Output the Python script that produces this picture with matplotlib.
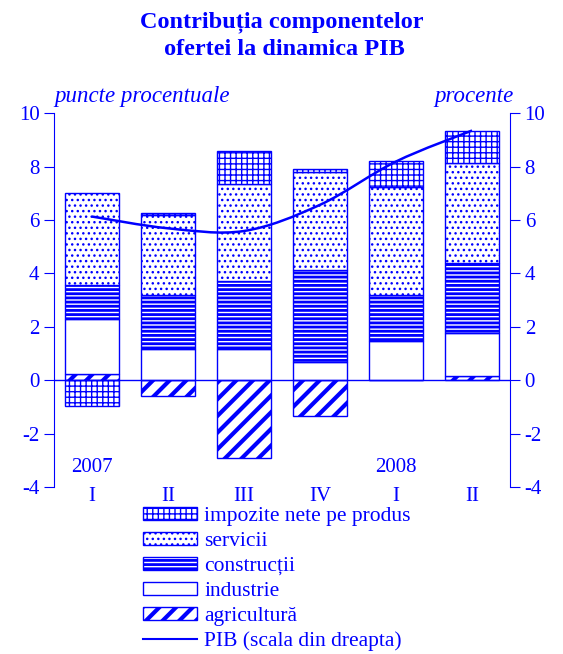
import matplotlib
matplotlib.use("Agg")
import matplotlib.pyplot as plt
import numpy as np
from matplotlib.patches import Patch, PathPatch
from matplotlib.path import Path
from matplotlib.lines import Line2D

quarters = ["I", "II", "III", "IV", "I", "II"]
agricultura = [0.22, -0.59, -2.91, -1.32, 0.0, 0.16]
industrie = [2.06, 1.16, 1.16, 0.70, 1.47, 1.63]
constructii = [1.29, 2.04, 2.54, 3.43, 1.73, 2.59]
servicii = [3.43, 2.99, 3.65, 3.65, 4.05, 3.77]
impozite = [-0.96, 0.09, 1.24, 0.12, 0.96, 1.19]
pib = [6.13, 5.69, 5.59, 6.57, 8.19, 9.35]

blue = "#0000ff"
plt.rcParams["font.family"] = ["Liberation Serif", "DejaVu Serif"]
plt.rcParams["axes.unicode_minus"] = False

fig = plt.figure(figsize=(5.63, 6.54), dpi=100)
ax = fig.add_axes([0.096, 0.255, 0.81, 0.572])
x = np.arange(len(quarters))
w = 0.72


def set_hlw(patch, lw):
    if hasattr(patch, "set_hatch_linewidth"):
        patch.set_hatch_linewidth(lw)
    else:
        patch._hatch_linewidth = lw


# stack positive and negative parts separately
series = [
    ("agricultură", agricultura, "//", 3.0),
    ("industrie", industrie, "", 1.0),
    ("construcții", constructii, "----", 2.0),
    ("servicii", servicii, "...", 1.0),
    ("impozite nete pe produs", impozite, "+++", 1.0),
]
pos = np.zeros(len(x))
neg = np.zeros(len(x))
for name, vals, hatch, hlw in series:
    vals = np.array(vals)
    bottom = np.where(vals >= 0, pos, neg)
    bars = ax.bar(x, vals, w, bottom=bottom, color="white", edgecolor=blue,
                  hatch=hatch, linewidth=1.0, zorder=2)
    for b in bars:
        set_hlw(b, hlw)
    pos = pos + np.where(vals > 0, vals, 0)
    neg = neg + np.where(vals < 0, vals, 0)

ax.axhline(0, color=blue, linewidth=1.0, zorder=3)
ax.set_xlim(-0.5, 5.5)
ax.set_ylim(-4, 10)
ax.set_yticks(range(-4, 11, 2))
ax.set_xticks(x)
ax.set_xticklabels(quarters)
for s in ["top", "bottom", "right"]:
    ax.spines[s].set_visible(False)
ax.spines["left"].set_color(blue)
ax.tick_params(axis="y", colors=blue, labelsize=15, length=7, direction="out")
ax.tick_params(axis="x", colors=blue, labelsize=15, length=0, pad=0)

ax.text(0, -3.25, "2007", color=blue, fontsize=15, ha="center", va="center")
ax.text(4, -3.25, "2008", color=blue, fontsize=15, ha="center", va="center")

# right axis with smoothed PIB line
ax2 = ax.twinx()
ax2.set_ylim(-4, 10)
ax2.set_yticks(range(-4, 11, 2))
for s in ["top", "bottom", "left"]:
    ax2.spines[s].set_visible(False)
ax2.spines["right"].set_color(blue)
ax2.tick_params(axis="y", colors=blue, labelsize=15, length=7, direction="out")

pts = np.column_stack([x, pib])
verts = [pts[0]]
codes = [Path.MOVETO]
n = len(pts)
for i in range(n - 1):
    p0 = pts[i - 1] if i > 0 else pts[i]
    p3 = pts[i + 2] if i + 2 < n else pts[i + 1]
    c1 = pts[i] + (pts[i + 1] - p0) / 6
    c2 = pts[i + 1] - (p3 - pts[i]) / 6
    verts += [c1, c2, pts[i + 1]]
    codes += [Path.CURVE4] * 3
ax2.add_patch(PathPatch(Path(verts, codes), fill=False, edgecolor=blue,
                        linewidth=1.8, zorder=4))

fig.text(0.5, 0.983, "Contribuția componentelor\n ofertei la dinamica PIB",
         ha="center", va="top", fontsize=17.5, fontweight="bold", color=blue,
         linespacing=1.4)
fig.text(0.097, 0.836, "puncte procentuale", color=blue, fontsize=16.5,
         style="italic", ha="left", va="bottom")
fig.text(0.913, 0.836, "procente", color=blue, fontsize=16.5,
         style="italic", ha="right", va="bottom")

handles = []
for name, vals, hatch, hlw in reversed(series):
    handles.append(Patch(facecolor="white", edgecolor=blue, hatch=hatch,
                         linewidth=1.0, label=name))
handles.append(Line2D([], [], color=blue, linewidth=1.5,
                      label="PIB (scala din dreapta)"))
leg = fig.legend(handles=handles, loc="upper left",
                 bbox_to_anchor=(0.254, 0.2245), frameon=False, fontsize=15.5,
                 handlelength=2.5, handleheight=0.55, labelspacing=0.27,
                 handletextpad=0.35, borderaxespad=0, borderpad=0)
for t in leg.get_texts():
    t.set_color(blue)
for h, (name, vals, hatch, hlw) in zip(leg.legend_handles, reversed(series)):
    set_hlw(h, hlw)

fig.savefig("out.png", dpi=100)
